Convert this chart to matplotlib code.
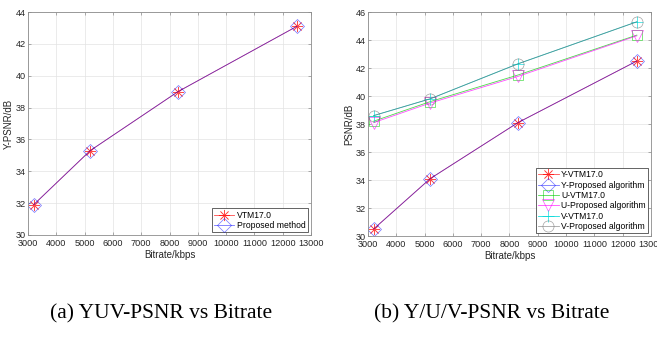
import numpy as np
import matplotlib
matplotlib.use("Agg")
import matplotlib.pyplot as plt

# bitrate points (kbps)
bitrate = [3200, 5200, 8300, 12500]

# (a) YUV-PSNR
yuv_vtm = [31.9, 35.3, 39.0, 43.1]
yuv_prop = [31.9, 35.3, 39.0, 43.1]

# (b) Y/U/V-PSNR
y_vtm = [30.5, 34.1, 38.1, 42.5]
y_prop = [30.5, 34.1, 38.1, 42.5]
u_vtm = [38.2, 39.6, 41.5, 44.35]
u_prop = [38.1, 39.5, 41.4, 44.3]
v_vtm = [38.6, 39.8, 42.3, 45.3]
v_prop = [38.6, 39.8, 42.3, 45.3]

x_ticks = np.arange(3000, 13001, 1000)
caption_a = "(a) YUV-PSNR vs Bitrate"
caption_b = "(b) Y/U/V-PSNR vs Bitrate"

plt.rcParams['font.family'] = ['Liberation Sans', 'DejaVu Sans']

W, H = 657, 340
fig = plt.figure(figsize=(W / 100, H / 100), dpi=100)

ASTERISK = (8, 2, 0)


def make_axes(left, right, top, bottom):
    return fig.add_axes([left / W, 1 - bottom / H, (right - left) / W, (bottom - top) / H])


def style_axes(ax, ylim, yticks, ylabel):
    ax.set_xlim(3000, 13000)
    ax.set_ylim(*ylim)
    ax.set_xticks(x_ticks)
    ax.set_yticks(yticks)
    ax.tick_params(direction='in', length=2, width=0.5, labelsize=6.6,
                   top=True, right=True, pad=1.8, color='#8c8c8c', labelcolor='#262626')
    ax.tick_params(axis='x', pad=3.2)
    ax.grid(True, color='#e3e3e3', linewidth=0.5)
    ax.set_axisbelow(True)
    for s in ax.spines.values():
        s.set_linewidth(0.6)
        s.set_color('#8c8c8c')
    ax.set_xlabel("Bitrate/kbps", fontsize=7, labelpad=1, color='#262626')
    ax.set_ylabel(ylabel, fontsize=7, labelpad=1, color='#262626')


def add_legend(ax):
    leg = ax.legend(loc='lower right', fontsize=6.2, frameon=True, fancybox=False,
                    borderpad=0.25, labelspacing=0.15, handlelength=2.4, handletextpad=0.3,
                    borderaxespad=0.35, framealpha=1)
    leg.get_frame().set_linewidth(0.5)
    leg.get_frame().set_edgecolor('#262626')


lw = 0.6
mew = 0.5

# (a)
ax1 = make_axes(28, 311, 12, 235)
ax1.plot(bitrate, yuv_vtm, color='red', marker=ASTERISK, markersize=8, markeredgewidth=mew,
         markerfacecolor='none', linewidth=lw, label='VTM17.0', alpha=0.7)
ax1.plot(bitrate, yuv_prop, color='blue', marker='D', markersize=7, markeredgewidth=mew,
         markerfacecolor='none', linewidth=lw, label='Proposed method', alpha=0.55)
style_axes(ax1, (30, 44), np.arange(30, 45, 2), "Y-PSNR/dB")
add_legend(ax1)

# (b)
ax2 = make_axes(368, 651, 12, 236)
series = [
    (y_vtm, 'red', ASTERISK, 'Y-VTM17.0', 8, 0.7),
    (y_prop, 'blue', 'D', 'Y-Proposed algorithm', 7, 0.55),
    (u_vtm, '#00cc00', 's', 'U-VTM17.0', 6.5, 0.7),
    (u_prop, 'magenta', 'v', 'U-Proposed algorithm', 8.5, 0.7),
    (v_vtm, '#00d8d8', '+', 'V-VTM17.0', 8, 0.9),
    (v_prop, '#666666', 'o', 'V-Proposed algorithm', 8, 0.6),
]
for vals, col, mk, lab, size, a in series:
    ax2.plot(bitrate, vals, color=col, marker=mk, markersize=size, markeredgewidth=mew,
             markerfacecolor='none', linewidth=lw, label=lab, alpha=a)
style_axes(ax2, (30, 46), np.arange(30, 47, 2), "PSNR/dB")
add_legend(ax2)

fig.text(161 / W, 1 - 314 / H, caption_a, ha='center', va='center',
         fontsize=15.5, family='Liberation Serif')
fig.text(492 / W, 1 - 314 / H, caption_b, ha='center', va='center',
         fontsize=15.5, family='Liberation Serif')

fig.savefig("out.png", dpi=100)
